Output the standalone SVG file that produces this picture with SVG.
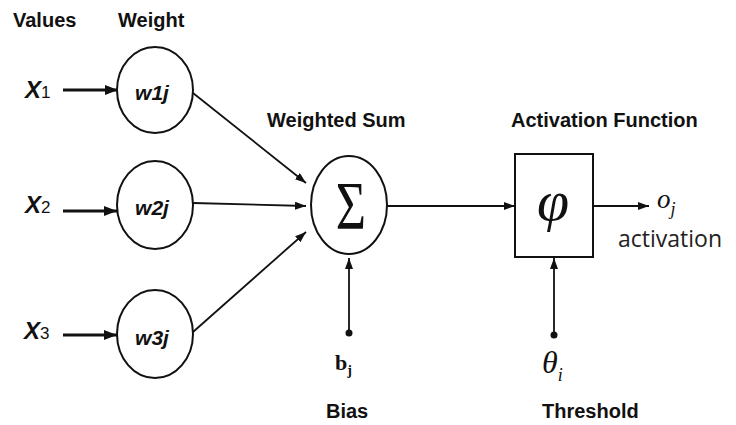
<svg xmlns="http://www.w3.org/2000/svg" width="736" height="425" viewBox="0 0 736 425">
<style>
.hd{font-family:"Liberation Sans",Arial,sans-serif;font-weight:bold;font-size:20px;fill:#111}
.xl{font-family:"Liberation Sans",Arial,sans-serif;font-weight:bold;font-style:italic;font-size:24px;fill:#111}
.xs{font-family:"Liberation Sans",Arial,sans-serif;font-size:17px;fill:#111}
.wl{font-family:"Liberation Sans",Arial,sans-serif;font-weight:bold;font-style:italic;font-size:21px;fill:#111}
.sh{fill:#fff;stroke:#111;stroke-width:2}
.ln{stroke:#111;stroke-width:1.8;fill:none}
.tk{stroke:#111;stroke-width:3;fill:none}
.ser{font-family:"Liberation Serif","Times New Roman",serif;fill:#111}
.act{font-family:"Open Sans","Liberation Sans",sans-serif;font-size:23px;fill:#222}
</style>
<defs>
<marker id="ah" markerUnits="userSpaceOnUse" markerWidth="12" markerHeight="10" refX="11" refY="4" orient="auto">
<path d="M0,0 L11,4 L0,8 z" fill="#111"/>
</marker>
<marker id="ahb" markerUnits="userSpaceOnUse" markerWidth="14" markerHeight="12" refX="13" refY="5" orient="auto">
<path d="M0,0 L13,5 L0,10 z" fill="#111"/>
</marker>
</defs>
<rect width="736" height="425" fill="#fff"/>
<g id="headings">
<text class="hd" x="13" y="27">Values</text>
<text class="hd" x="118" y="27">Weight</text>
<text class="hd" x="267" y="127">Weighted Sum</text>
<text class="hd" x="511" y="127">Activation Function</text>
<text class="hd" x="326" y="418">Bias</text>
<text class="hd" x="542" y="418">Threshold</text>
</g>
<g id="connectors">
<line class="tk" x1="63" y1="90" x2="118" y2="90" marker-end="url(#ahb)"/>
<line class="tk" x1="63" y1="211" x2="117" y2="211" marker-end="url(#ahb)"/>
<line class="tk" x1="63" y1="335" x2="117" y2="335" marker-end="url(#ahb)"/>
<line class="ln" x1="193" y1="93" x2="306" y2="183" marker-end="url(#ah)"/>
<line class="ln" x1="193" y1="203" x2="306" y2="206" marker-end="url(#ah)"/>
<line class="ln" x1="193" y1="332" x2="306" y2="232" marker-end="url(#ah)"/>
<line class="ln" x1="387" y1="206" x2="515" y2="206" marker-end="url(#ah)"/>
<line class="ln" x1="593" y1="206" x2="649" y2="206" marker-end="url(#ah)"/>
<line class="ln" x1="349" y1="333" x2="349" y2="258" marker-end="url(#ah)"/>
<line class="ln" x1="554" y1="335" x2="554" y2="258" marker-end="url(#ah)"/>
<circle cx="349" cy="333" r="3.5" fill="#111"/>
<circle cx="554" cy="335" r="3.5" fill="#111"/>
</g>
<g id="x1"><text class="xl" x="25" y="98">X<tspan class="xs" font-style="normal" font-weight="normal" dx="0">1</tspan></text></g>
<g id="x2"><text class="xl" x="25" y="213">X<tspan class="xs" font-style="normal" font-weight="normal" dx="0">2</tspan></text></g>
<g id="x3"><text class="xl" x="24" y="339">X<tspan class="xs" font-style="normal" font-weight="normal" dx="0">3</tspan></text></g>
<g id="w1"><ellipse class="sh" cx="155" cy="90" rx="38" ry="43"/><text class="wl" x="152" y="100" text-anchor="middle">w1j</text></g>
<g id="w2"><ellipse class="sh" cx="155" cy="205" rx="38" ry="44"/><text class="wl" x="152" y="215" text-anchor="middle">w2j</text></g>
<g id="w3"><ellipse class="sh" cx="155" cy="334" rx="38" ry="44"/><text class="wl" x="152" y="345" text-anchor="middle">w3j</text></g>
<g id="sum"><ellipse class="sh" cx="349" cy="205" rx="38" ry="49"/>
<text class="ser" transform="translate(351,228) scale(1,1.3)" font-size="52" text-anchor="middle">Σ</text></g>
<g id="act"><rect class="sh" x="515" y="154" width="78" height="103"/>
<text class="ser" x="553" y="220" font-size="58" font-style="italic" text-anchor="middle">φ</text></g>
<g id="out"><text class="ser" x="657" y="208" font-size="27" font-style="italic">o<tspan font-size="18" dy="7">j</tspan></text>
<text class="act" x="618" y="247">activation</text></g>
<g id="bias"><text class="ser" x="335" y="370" font-size="22" font-weight="bold">b<tspan font-size="14" dy="5">j</tspan></text></g>
<g id="theta"><text class="ser" x="542" y="373" font-size="32" font-style="italic">θ<tspan font-size="18" dy="8">i</tspan></text></g>
</svg>
